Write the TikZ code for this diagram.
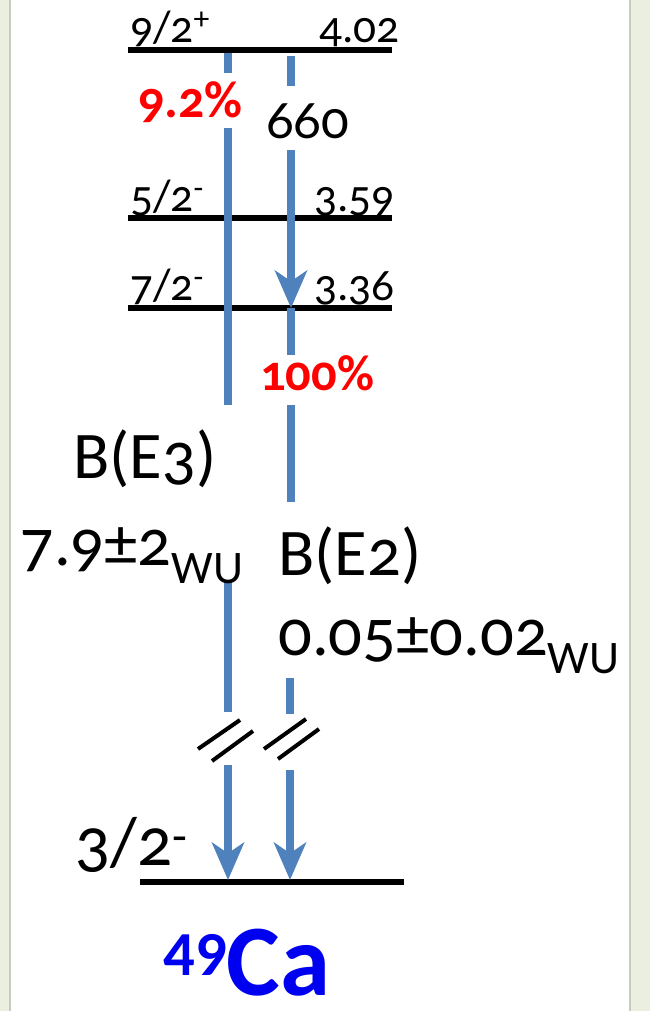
\documentclass[tikz,border=0pt]{standalone}
\usepackage{fontspec}
\setmainfont{Carlito}[Numbers=OldStyle]
\usetikzlibrary{arrows.meta}
\definecolor{gammablue}{HTML}{4F81BD}
\definecolor{sidebar}{HTML}{EBEFDF}
\definecolor{sideline}{HTML}{C9CBC0}
\definecolor{isotope}{HTML}{0000F0}

\tikzset{
  level/.style={line width=4.5pt},
  gamma/.style={draw=gammablue, line width=5.5pt},
  gammahead/.style={gamma, -{Stealth[length=28pt,width=24pt,inset=8pt]}},
  brk/.style={line width=3pt},
  spin/.style={inner sep=0pt, anchor=base west, font=\fontsize{34}{38}\selectfont},
  energy/.style={inner sep=0pt, anchor=base east, font=\fontsize{34}{38}\selectfont},
  big/.style={inner sep=0pt, anchor=base west, font=\fontsize{50}{54}\selectfont},
  ratio/.style={inner sep=0pt, anchor=base west, text=red, font=\bfseries\fontsize{38}{40}\selectfont},
}

\begin{document}
\begin{tikzpicture}[x=0.75pt, y=-0.75pt]
  % frame
  \useasboundingbox (0,0) rectangle (650,1011);
  \fill[sidebar] (0,0) rectangle (10,1011);
  \fill[sidebar] (630,0) rectangle (650,1011);
  \draw[sideline, line width=1pt] (10,0) -- (10,1011);
  \draw[sideline, line width=1pt] (630,0) -- (630,1011);

  % levels
  \coordinate (L9a) at (128,50);  \coordinate (L9b) at (392,50);
  \coordinate (L5a) at (128,218); \coordinate (L5b) at (392,218);
  \coordinate (L7a) at (128,308); \coordinate (L7b) at (392,308);
  \coordinate (L3a) at (140,882); \coordinate (L3b) at (404,882);
  \draw[level] (L9a) -- (L9b);
  \draw[level] (L5a) -- (L5b);
  \draw[level] (L7a) -- (L7b);
  \draw[level] (L3a) -- (L3b);

  \node[spin] (s9) at (130,42) {9/2\textsuperscript{+}};
  \node[energy] (e9) at (400,42) {4.02};
  \node[spin] (s5) at (130,211) {5/2\textsuperscript{-}};
  \node[energy] (e5) at (395,211) {3.59};
  \node[spin] (s7) at (130,300) {7/2\textsuperscript{-}};
  \node[energy] (e7) at (395,300) {3.36};
  \node[big, font=\fontsize{52}{56}\selectfont] (s3) at (75,865) {3/2\textsuperscript{-}};

  % E3 branch (left)
  \coordinate (a1) at (228,53);  \coordinate (a2) at (228,73);
  \coordinate (a3) at (228,128); \coordinate (a4) at (228,405);
  \coordinate (a5) at (228,582); \coordinate (a6) at (228,712);
  \coordinate (a7) at (228,765); \coordinate (a8) at (228,880);
  \draw[gamma] (a1) -- (a2);
  \draw[gamma] (a3) -- (a4);
  \draw[gamma] (a5) -- (a6);
  \draw[gammahead] (a7) -- (a8);

  % E2 branch (right)
  \coordinate (b1) at (291,56);  \coordinate (b2) at (291,86);
  \coordinate (b3) at (291,150); \coordinate (b4) at (291,308);
  \coordinate (b5) at (291,308); \coordinate (b6) at (291,355);
  \coordinate (b7) at (291,405); \coordinate (b8) at (291,502);
  \coordinate (b9) at (290,678); \coordinate (b10) at (290,714);
  \coordinate (b11) at (290,770); \coordinate (b12) at (290,880);
  \draw[gamma] (b1) -- (b2);
  \draw[gammahead] (b3) -- (b4);
  \draw[gamma] (b5) -- (b6);
  \draw[gamma] (b7) -- (b8);
  \draw[gamma] (b9) -- (b10);
  \draw[gammahead] (b11) -- (b12);

  % break marks
  \draw[brk] (198,749) -- (240,720);
  \draw[brk] (212,761) -- (253,731);
  \draw[brk] (264,749) -- (306,719);
  \draw[brk] (278,759) -- (319,729);

  % labels
  \node[ratio, font=\bfseries\fontsize{39}{42}\selectfont] (r1) at (138,117) {9.2\%};
  \node[big, font=\fontsize{41}{44}\selectfont] (n660) at (266,138) {660};
  \node[ratio] (r2) at (260,390) {100\%};
  \node[big] (be3) at (73,478) {B(E3)};
  \node[big] (v3) at (20,565) {7.9±2\textsubscript{WU}};
  \node[big] (be2) at (278,575) {B(E2)};
  \node[big] (v2) at (278,655) {0.05±0.02\textsubscript{WU}};
  \node[inner sep=0pt, anchor=base west, text=isotope, font=\bfseries\fontsize{76}{80}\selectfont] (ca) at (163,995)
    {\raisebox{15pt}{\fontsize{47}{50}\selectfont\addfontfeatures{Numbers=Lining}49}Ca};
\end{tikzpicture}
\end{document}
